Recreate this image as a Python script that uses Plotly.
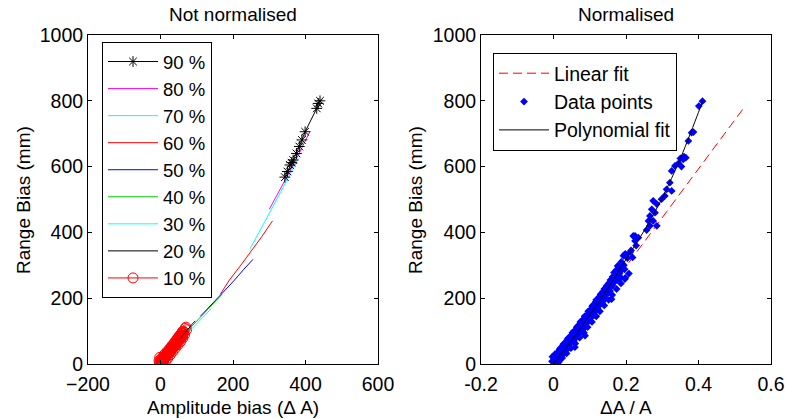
import plotly.graph_objects as go

# ---------------- data: left panel (not normalised) ----------------
p90_x = [343, 350, 357, 362, 366, 375, 383, 390, 399, 431, 435, 440]
p90_y = [568, 585, 605, 612, 620, 640, 661, 681, 706, 777, 792, 800]
p80_x = [300, 320, 340, 360, 380, 400, 412]
p80_y = [470, 510, 552, 592, 635, 680, 706]
p70_x = [247, 270, 300, 330, 355, 380]
p70_y = [350, 395, 458, 520, 572, 625]
p60_x = [165, 190, 220, 250, 280, 309]
p60_y = [212, 255, 298, 342, 388, 435]
p50_x = [110, 140, 170, 200, 230, 255]
p50_y = [145, 180, 213, 250, 288, 318]
p40_x = [78, 100, 125, 150, 170]
p40_y = [105, 130, 158, 188, 212]
p30_x = [80, 100, 120, 140]
p30_y = [100, 122, 145, 168]
p20_x = [55, 62, 70, 80, 88, 96]
p20_y = [78, 88, 100, 112, 122, 131]
p10_x = [0, 2, 4, 1, 3, 5, 6, 8, 7, 10, 12, 9, 14, 15, 11, 17, 18, 20, 16, 22,
         24, 21, 26, 27, 25, 30, 32, 29, 34, 35, 33, 38, 40, 37, 42, 44, 41, 46,
         48, 45, 50, 52, 55, 53, 58, 57, 60, 62, 65, 70, -3, 0, 6, 13, 19, 28,
         36, 43, 49, 56, 63, -4, 8, 15, 3, 20, 10, 27, 18, 34, 26, 41, 33, 48,
         40, 55, 47, 61, 54, 66, 60, 72, -2, 12, 23, 31, 38, 45, 51, 58, 68]
p10_y = [0, 3, 6, 8, 2, 10, 5, 12, 14, 15, 18, 11, 20, 24, 17, 25, 28, 30, 22, 32,
         36, 33, 38, 42, 35, 44, 46, 40, 50, 53, 48, 55, 58, 52, 60, 64, 56, 68,
         70, 62, 72, 76, 80, 74, 84, 78, 86, 92, 96, 112, 4, 12, 16, 26, 34, 48,
         60, 70, 80, 90, 100, 10, 2, 10, 18, 18, 28, 28, 38, 38, 48, 48, 58, 58,
         68, 68, 78, 78, 88, 88, 98, 104, 20, 30, 40, 52, 62, 74, 84, 94, 108]

# ---------------- data: right panel (normalised) ----------------
lin_x = [0.0, 0.53]
lin_y = [0, 786]
poly_x = [0.0, 0.05, 0.10, 0.15, 0.20, 0.25, 0.30, 0.35, 0.40, 0.412]
poly_y = [0, 72, 148, 230, 318, 405, 505, 625, 765, 800]
pts_x = [0.000, 0.005, 0.002, 0.008, 0.010, 0.004, 0.012, 0.015, 0.013, 0.018,
         0.020, 0.017, 0.022, 0.025, 0.024, 0.028, 0.030, 0.027, 0.032, 0.035,
         0.033, 0.038, 0.040, 0.037, 0.042, 0.045, 0.043, 0.048, 0.050, 0.047,
         0.052, 0.055, 0.058, 0.060, 0.057, 0.062, 0.065, 0.063, 0.068, 0.070,
         0.067, 0.072, 0.075, 0.073, 0.078, 0.080, 0.077, 0.083, 0.085, 0.083,
         0.088, 0.090, 0.087, 0.092, 0.095, 0.093, 0.098, 0.100, 0.097, 0.102,
         0.105, 0.103, 0.108, 0.110, 0.107, 0.112, 0.115, 0.113, 0.118, 0.120,
         0.117, 0.122, 0.125, 0.123, 0.128, 0.130, 0.127, 0.132, 0.135, 0.133,
         0.138, 0.140, 0.137, 0.142, 0.145, 0.143, 0.148, 0.150, 0.147, 0.152,
         0.155, 0.158, 0.160, 0.157, 0.162, 0.165, 0.163, 0.168, 0.170, 0.167,
         0.172, 0.175, 0.173, 0.178, 0.180, 0.177, 0.182, 0.185, 0.183, 0.188,
         0.190, 0.187, 0.192, 0.160, 0.087, 0.059, 0.197, 0.185, 0.175, 0.009,
         -0.004, 0.026, 0.046, 0.066, 0.096, 0.116, 0.136, 0.156,
         0.193, 0.198, 0.211, 0.218, 0.220, 0.225, 0.228, 0.234, 0.225, 0.257,
         0.262, 0.266, 0.266, 0.271, 0.275, 0.275, 0.280, 0.285, 0.285, 0.298,
         0.307, 0.312, 0.321, 0.326, 0.326, 0.335, 0.345, 0.350, 0.353, 0.358,
         0.360, 0.365, 0.372, 0.381, 0.386, 0.401, 0.411,
         0.006, 0.016, 0.021, 0.031, 0.036, 0.041, 0.051, 0.056, 0.061, 0.071,
         0.076, 0.081, 0.091, 0.101, 0.106, 0.111, 0.121, 0.126, 0.131, 0.141,
         0.146, 0.151, 0.161, 0.166, 0.171, 0.176, 0.181, 0.186, 0.191, 0.196,
         0.003, 0.014, 0.029, 0.044, 0.054, 0.069, 0.079, 0.089, 0.099, 0.114,
         0.124, 0.134, 0.144, 0.154, 0.164, 0.174, 0.184, 0.194, 0.204, 0.214,
         -0.003, 0.008, 0.019, 0.030, 0.040, 0.052, 0.064, 0.074, 0.086, 0.096,
         0.108, 0.118, 0.130, 0.140, 0.152, 0.164, 0.176, 0.186, 0.014, 0.024,
         0.036, 0.048, 0.060, 0.072, 0.084, 0.094, 0.106, 0.118, 0.128, 0.140,
         0.152, 0.162, 0.174, 0.186, 0.198, 0.208]
pts_y = [5, 0, 15, 10, 25, 30, 8, 20, 35, 28,
         40, 45, 25, 38, 50, 45, 55, 60, 40, 50,
         62, 58, 65, 72, 55, 70, 80, 68, 78, 85,
         90, 82, 92, 88, 100, 80, 95, 105, 100, 110,
         115, 95, 108, 120, 115, 125, 130, 110, 122, 135,
         130, 140, 145, 125, 138, 150, 145, 155, 160, 140,
         152, 165, 160, 170, 175, 150, 165, 180, 175, 185,
         190, 170, 180, 195, 190, 198, 205, 185, 195, 210,
         205, 215, 220, 200, 212, 225, 220, 230, 238, 225,
         240, 235, 248, 255, 240, 252, 265, 258, 270, 278,
         262, 275, 285, 280, 290, 298, 275, 285, 300, 295,
         305, 310, 290, 197, 86, 51, 258, 262, 255, 2,
         8, 30, 62, 92, 130, 160, 190, 222,
         329, 335, 339, 324, 389, 374, 360, 384, 389, 407,
         435, 420, 450, 470, 435, 496, 460, 486, 420, 501,
         511, 531, 551, 526, 587, 602, 610, 625, 600, 622,
         630, 627, 678, 703, 705, 784, 799,
         18, 12, 42, 35, 60, 48, 82, 70, 98, 92,
         118, 105, 128, 142, 158, 148, 168, 192, 185, 208,
         228, 218, 238, 262, 255, 285, 268, 292, 302, 288,
         12, 32, 52, 75, 95, 112, 132, 138, 150, 178,
         200, 200, 222, 245, 245, 268, 282, 300, 322, 345,
         22, 32, 48, 62, 78, 95, 112, 128, 145, 160,
         178, 195, 212, 228, 245, 262, 280, 295, 5, 18,
         32, 48, 62, 80, 95, 112, 128, 145, 160, 178,
         195, 210, 228, 245, 262, 275]

FONT = "Liberation Sans, Arial, sans-serif"
W, H = 785, 419
TICK_FS = 19.5
LAB_FS = 19

fig = go.Figure()

# left panel: plot 10% first, 90% last; legend reversed
left_series = [
    ("10 %", p10_x, p10_y, "#ff0000", dict(symbol="circle-open", size=10, color="#ff0000", line=dict(width=1)), "lines+markers"),
    ("20 %", p20_x, p20_y, "#000000", None, "lines"),
    ("30 %", p30_x, p30_y, "#00ffff", None, "lines"),
    ("40 %", p40_x, p40_y, "#00cc00", None, "lines"),
    ("50 %", p50_x, p50_y, "#0000ff", None, "lines"),
    ("60 %", p60_x, p60_y, "#ff0000", None, "lines"),
    ("70 %", p70_x, p70_y, "#00ffff", None, "lines"),
    ("80 %", p80_x, p80_y, "#ff00ff", None, "lines"),
    ("90 %", p90_x, p90_y, "#000000", dict(symbol="asterisk-open", size=9, color="#000000", line=dict(width=1, color="#000000")), "lines+markers"),
]
for name, xs, ys, col, mk, mode in left_series:
    kw = dict(x=xs, y=ys, name=name, mode=mode, line=dict(color=col, width=1),
              xaxis="x", yaxis="y", legend="legend")
    if mk:
        kw["marker"] = mk
    fig.add_trace(go.Scatter(**kw))

# right panel
fig.add_trace(go.Scatter(x=lin_x, y=lin_y, name="Linear fit", mode="lines",
                         line=dict(color="#ff0000", width=1, dash="9px,5px"),
                         xaxis="x2", yaxis="y2", legend="legend2"))
fig.add_trace(go.Scatter(x=pts_x, y=pts_y, name="Data points", mode="markers",
                         marker=dict(symbol="diamond", size=6, color="#0000ff"),
                         xaxis="x2", yaxis="y2", legend="legend2"))
fig.add_trace(go.Scatter(x=poly_x, y=poly_y, name="Polynomial fit", mode="lines",
                         line=dict(color="#000000", width=1, shape="spline"),
                         xaxis="x2", yaxis="y2", legend="legend2"))

ax_common = dict(showline=True, linecolor="black", linewidth=1, mirror="ticks",
                 ticks="inside", ticklen=4, tickcolor="black", tickwidth=1,
                 showgrid=False, zeroline=False, automargin=False,
                 tickfont=dict(family=FONT, size=TICK_FS, color="black"))

yd = [1 - 364 / H, 1 - 35 / H]
fig.update_layout(
    template="none",
    width=W, height=H,
    margin=dict(l=0, r=0, t=0, b=0, pad=0),
    paper_bgcolor="white", plot_bgcolor="white",
    font=dict(family=FONT, size=18, color="black"),
    xaxis=dict(domain=[88 / W, 378 / W], range=[-200, 600],
               tickvals=[-200, 0, 200, 400, 600], anchor="y",
               ticklabelstandoff=3, **ax_common),
    yaxis=dict(domain=yd, range=[0, 1000],
               tickvals=[0, 200, 400, 600, 800, 1000], anchor="x", **ax_common),
    xaxis2=dict(domain=[481 / W, 771 / W], range=[-0.2, 0.6],
                tickvals=[-0.2, 0, 0.2, 0.4, 0.6],
                ticktext=["-0.2", "0", "0.2", "0.4", "0.6"], anchor="y2",
                ticklabelstandoff=3, **ax_common),
    yaxis2=dict(domain=yd, range=[0, 1000],
                tickvals=[0, 200, 400, 600, 800, 1000], anchor="x2", **ax_common),
    legend=dict(x=102 / W, y=1 - 42 / H, xanchor="left", yanchor="top",
                bgcolor="white", bordercolor="black", borderwidth=1,
                itemwidth=50, traceorder="reversed",
                font=dict(family=FONT, size=18.5, color="black")),
    legend2=dict(x=493 / W, y=1 - 53 / H, xanchor="left", yanchor="top",
                 bgcolor="white", bordercolor="black", borderwidth=1,
                 itemwidth=50, traceorder="normal",
                 font=dict(family=FONT, size=19.5, color="black")),
    showlegend=True,
)

annots = [
    dict(text="Not normalised", x=233 / W, y=1 - 14 / H),
    dict(text="Normalised", x=626 / W, y=1 - 14 / H),
    dict(text="Amplitude bias (\u0394 A)", x=233 / W, y=1 - 407 / H),
    dict(text="\u0394A / A", x=626 / W, y=1 - 407 / H),
    dict(text="Range Bias (mm)", x=24 / W, y=1 - 200 / H, textangle=-90),
    dict(text="Range Bias (mm)", x=416 / W, y=1 - 200 / H, textangle=-90),
]
for a in annots:
    fig.add_annotation(xref="paper", yref="paper", showarrow=False,
                       xanchor="center", yanchor="middle",
                       font=dict(family=FONT, size=LAB_FS, color="black"), **a)

fig.write_html("out.html")
